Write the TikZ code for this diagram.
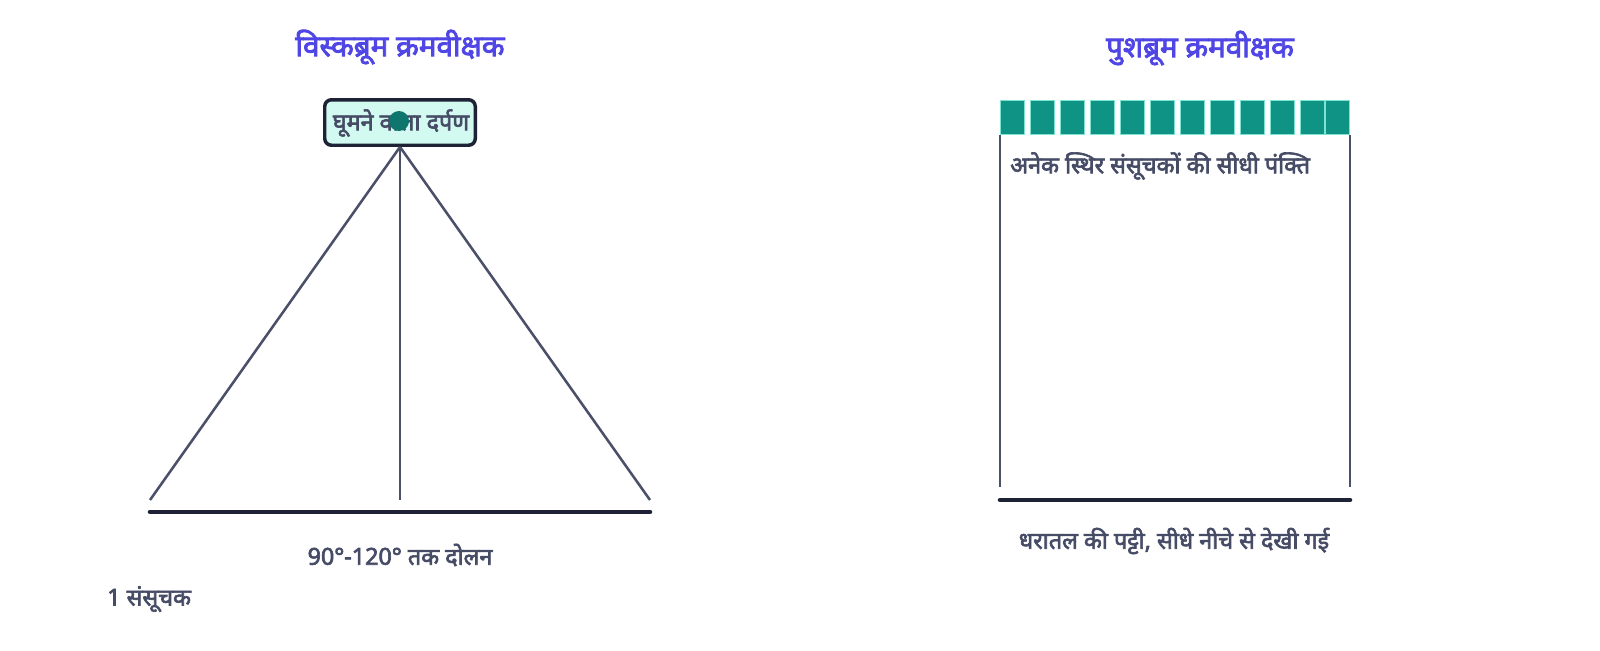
\documentclass[tikz,border=0pt]{standalone}
\usepackage{fontspec}
\setmainfont{Noto Sans}[Script=Devanagari, AutoFakeBold=2.8]
\definecolor{ttl}{HTML}{4F46E5}
\definecolor{txt}{HTML}{464C66}
\definecolor{conn}{HTML}{4A5068}
\definecolor{grnd}{HTML}{1E2235}
\definecolor{boxfill}{HTML}{D2FAF0}
\definecolor{dotc}{HTML}{0F766E}
\definecolor{sens}{HTML}{0E9384}
\definecolor{sensedge}{HTML}{7FE3D2}
\tikzset{
  titletext/.style={font=\bfseries\fontsize{22.2}{26}\selectfont, text=ttl, inner sep=0pt},
  labeltext/.style={font=\bfseries\fontsize{17.5}{21}\selectfont, text=txt, inner sep=0pt},
  mirrorbox/.style={draw=grnd, fill=boxfill, line width=2.6pt, rounded corners=5pt,
    minimum width=112.9pt, minimum height=34.1pt, inner sep=0pt},
  connline/.style={draw=conn, line width=1.9pt},
  groundline/.style={draw=grnd, line width=3.4pt, line cap=round},
  sidewall/.style={draw=conn, line width=2.1pt},
  sensor/.style={fill=sens, draw=sensedge, line width=0.5pt, minimum width=18.4pt,
    minimum height=25.5pt, inner sep=0pt},
  pivot/.style={circle, fill=dotc, minimum size=15pt, inner sep=0pt}
}
\begin{document}
\begin{tikzpicture}[x=0.75pt,y=-0.75pt]
\fill[white] (0,0) rectangle (1600,650);
\useasboundingbox (0,0) rectangle (1600,650);

% ---------- Whiskbroom ----------
\node[titletext] (t1) at (400,47) {विस्कब्रूम क्रमवीक्षक};
\node[mirrorbox] (mirror) at (400,122.5) {};
\node[labeltext] (mlabel) at (401,123) {घूमने वाला दर्पण};
\node[pivot] (dot) at (399,121) {};

\coordinate (gL) at (150,500);
\coordinate (gC) at (400,500);
\coordinate (gR) at (650,500);
\draw[connline] (mirror.south) -- (gL);
\draw[connline] (mirror.south) -- (gC);
\draw[connline] (mirror.south) -- (gR);

\coordinate (w1) at (150,512);
\coordinate (w2) at (650,512);
\draw[groundline] (w1) -- (w2);

\node[labeltext] (osc) at (400,555) {90°-120° तक दोलन};
\node[labeltext, anchor=west] (one) at (107,599) {1 संसूचक};

% ---------- Pushbroom ----------
\node[titletext] (t2) at (1200,48) {पुशब्रूम क्रमवीक्षक};
\foreach \i in {0,...,10}{
  \node[sensor] (s\i) at (1012.25+30*\i,117) {};
}
\node[sensor] (s11) at (1337.25,117) {};

\coordinate (a1) at (1000,135);
\coordinate (a2) at (1000,487);
\coordinate (b1) at (1350,135);
\coordinate (b2) at (1350,487);
\draw[sidewall] (a1) -- (a2);
\draw[sidewall] (b1) -- (b2);

\node[labeltext, anchor=west] (arr) at (1010,166) {अनेक स्थिर संसूचकों की सीधी पंक्ति};

\coordinate (p1) at (1000,500);
\coordinate (p2) at (1350,500);
\draw[groundline] (p1) -- (p2);

\node[labeltext] (strip) at (1174,541) {धरातल की पट्टी, सीधे नीचे से देखी गई};
\end{tikzpicture}
\end{document}
